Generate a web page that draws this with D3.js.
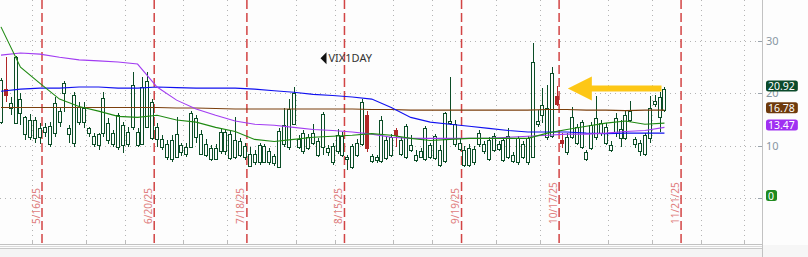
<!DOCTYPE html>
<html>
<head>
<meta charset="utf-8">
<script src="https://cdn.jsdelivr.net/npm/d3@7"></script>
<style>
html, body { margin: 0; padding: 0; background: #fdfdfd; overflow: hidden; }
svg { display: block; font-family: "Noto Sans", sans-serif; }
</style>
</head>
<body>
<svg id="chart" width="808" height="257"></svg>
<script>
// trading calendar
const firstDay = "2025-05-06";
const lastAxisDay = "2025-12-31";
const holidays = ["2025-05-26", "2025-06-19", "2025-07-04", "2025-09-01", "2025-11-27", "2025-12-25"];

// VIX1DAY daily candles, one per trading day from firstDay
const opens = [14.5, 20.8, 17.2, 14.3, 16.2, 12.2, 11.6, 11.4, 11.6, 12.6, 10.4, 12.4, 14.5, 20.0, 12.2, 10.6, 14.5, 14.5, 12.4, 10.4,
    10.1, 12.4, 11.0, 10.4, 9.7, 10.1, 10.4, 13.5, 10.1, 10.4, 13.5, 11.4, 11.2, 9.7, 7.8, 7.4, 7.8, 8.7, 8.5, 9.7,
    11.6, 8.5, 8.3, 7.4, 7.4, 8.9, 8.9, 7.6, 7.8, 8.3, 7.8, 6.2, 6.8, 6.8, 6.8, 6.8, 6.6, 6.0, 10.4, 9.7,
    14.1, 9.7, 8.9, 9.5, 10.6, 8.3, 9.7, 8.7, 6.8, 8.9, 8.2, 7.4, 6.0, 8.2, 10.3, 15.9, 7.0, 7.2, 7.0, 7.6,
    8.2, 12.9, 8.5, 7.8, 9.1, 7.2, 7.9, 7.4, 7.8, 7.6, 6.4, 7.0, 14.3, 10.3, 9.3, 6.4, 6.4, 6.8, 10.3, 8.9,
    7.4, 9.1, 9.3, 7.2, 7.8, 7.0, 6.8, 7.8, 6.8, 7.9, 14.1, 15.8, 11.6, 11.8, 19.5, 11.0, 8.7, 11.6, 10.6, 9.7,
    7.4, 9.5, 11.6, 12.4, 10.6, 9.1, 12.4, 11.4, 11.4, 14.9, 10.3, 8.9, 8.5, 11.4, 17.9, 15.4, 16.8];
const highs = [22.9, 26.9, 19.3, 27.1, 20.0, 15.6, 16.0, 15.4, 14.3, 14.3, 14.5, 19.3, 17.2, 22.3, 13.9, 20.2, 18.3, 18.3, 13.5, 12.4,
    12.4, 20.2, 15.2, 12.9, 16.2, 14.5, 13.5, 24.1, 13.3, 23.1, 24.1, 18.9, 14.3, 12.0, 11.0, 12.0, 15.4, 10.6, 10.6, 16.6,
    15.8, 12.9, 11.2, 10.1, 10.4, 13.3, 13.1, 12.9, 15.4, 11.4, 10.6, 9.7, 9.1, 10.6, 10.4, 9.5, 8.5, 13.3, 17.2, 18.9,
    21.2, 12.0, 12.9, 12.2, 14.1, 11.4, 16.4, 10.1, 10.6, 13.1, 12.6, 8.3, 10.4, 11.2, 18.9, 16.6, 8.5, 8.3, 15.6, 11.6,
    12.2, 13.3, 11.6, 14.1, 12.0, 9.1, 9.5, 13.7, 10.6, 12.2, 10.1, 16.4, 23.1, 14.9, 11.2, 9.9, 10.4, 9.9, 12.9, 10.8,
    11.6, 12.4, 10.8, 11.4, 13.3, 8.7, 11.8, 10.8, 11.8, 29.6, 16.8, 21.0, 21.6, 25.0, 21.4, 12.4, 12.4, 17.3, 14.1, 14.9,
    9.1, 14.5, 19.5, 14.9, 14.3, 10.8, 16.2, 14.9, 16.8, 18.5, 11.6, 11.0, 12.4, 19.5, 19.6, 20.2, 21.2];
const lows = [14.1, 18.3, 15.8, 14.1, 13.9, 11.0, 11.0, 10.6, 10.4, 11.6, 9.7, 11.6, 13.5, 16.4, 10.6, 9.7, 13.9, 13.3, 11.6, 9.7,
    9.1, 11.6, 10.4, 9.7, 9.1, 8.6, 9.7, 13.0, 9.7, 10.3, 13.3, 11.0, 9.7, 9.1, 7.2, 6.8, 7.6, 8.1, 7.8, 9.5,
    10.6, 8.2, 7.8, 7.0, 7.2, 8.5, 8.3, 7.2, 7.4, 7.8, 7.2, 6.0, 6.4, 6.4, 6.6, 6.4, 6.2, 5.8, 9.7, 9.1,
    13.9, 9.3, 8.5, 9.1, 10.1, 7.8, 8.3, 8.1, 6.4, 8.5, 7.8, 5.3, 5.6, 7.8, 9.9, 8.7, 6.6, 6.6, 6.6, 7.2,
    7.8, 9.7, 8.1, 7.4, 8.7, 6.8, 7.6, 7.0, 7.4, 7.2, 6.0, 6.6, 13.9, 9.7, 8.9, 6.0, 6.0, 6.4, 9.7, 8.5,
    7.0, 8.7, 8.9, 6.8, 7.4, 6.6, 6.4, 7.4, 6.4, 7.8, 13.5, 14.3, 11.0, 11.4, 17.5, 9.5, 8.3, 11.2, 10.1, 9.3,
    7.0, 9.1, 11.0, 11.8, 10.1, 8.7, 11.6, 9.7, 11.0, 14.5, 9.5, 8.1, 8.0, 10.6, 17.3, 12.6, 16.4];
const closes = [22.5, 19.6, 18.1, 26.9, 18.9, 15.4, 15.0, 15.0, 13.3, 13.5, 13.7, 18.1, 16.6, 21.9, 13.3, 19.6, 17.3, 17.2, 13.3, 11.9,
    12.2, 19.1, 14.3, 12.4, 15.8, 13.9, 12.7, 21.6, 12.6, 21.2, 22.3, 18.3, 13.5, 11.2, 10.4, 11.0, 12.2, 10.1, 9.7, 16.2,
    15.2, 12.2, 10.4, 9.5, 9.5, 12.6, 12.6, 12.2, 11.0, 10.8, 9.9, 8.5, 8.5, 10.1, 9.9, 8.9, 8.0, 12.8, 13.9, 17.0,
    20.0, 11.2, 12.4, 11.6, 12.4, 10.8, 16.0, 9.5, 9.9, 12.0, 11.8, 7.8, 9.9, 10.6, 18.3, 9.5, 8.0, 7.8, 15.0, 11.0,
    11.6, 12.0, 11.0, 13.7, 10.1, 8.3, 8.9, 13.3, 10.1, 11.8, 9.1, 16.2, 14.7, 14.1, 10.6, 9.1, 9.5, 9.3, 12.4, 10.3,
    11.0, 11.8, 10.3, 11.0, 11.8, 8.2, 11.4, 10.4, 11.4, 26.0, 14.7, 17.7, 17.2, 23.9, 17.9, 10.6, 11.6, 15.4, 13.5, 14.5,
    8.7, 13.9, 15.2, 14.3, 13.5, 10.1, 15.2, 13.1, 15.9, 16.6, 11.2, 10.6, 12.0, 17.2, 18.5, 19.3, 20.92];

// moving averages read every maStep bars
const maStep = 4;
const maGreen = [32.7, 25.0, 21.9, 18.9, 17.5, 16.6, 15.6, 15.4, 15.8, 14.9, 14.5, 13.5, 12.7, 11.2, 10.8, 11.2, 11.6, 11.8,
    12.0, 12.3, 12.0, 11.4, 11.0, 11.2, 11.4, 11.4, 11.4, 11.4, 12.4, 13.1, 13.7, 14.3, 14.7, 14.1, 14.3];
const maPurple = [27.3, 27.7, 27.5, 26.9, 26.4, 26.2, 26.0, 25.6, 21.2, 18.7, 17.0, 15.8, 14.7, 14.1, 13.9, 13.5, 13.1, 12.9,
    12.6, 12.2, 11.6, 11.4, 11.4, 11.4, 11.4, 11.4, 11.6, 11.8, 12.0, 12.2, 12.2, 12.4, 12.7, 12.9, 13.5];
const maBlue = [20.4, 20.8, 21.0, 21.0, 21.2, 21.2, 21.0, 21.0, 21.2, 21.1, 21.0, 21.0, 21.0, 20.8, 20.5, 20.2, 19.8, 19.6,
    19.3, 18.9, 17.3, 15.4, 14.5, 14.1, 13.7, 13.3, 12.9, 12.6, 12.6, 12.6, 12.4, 12.3, 12.4, 12.4, 12.4];
const maBrown = [17.3, 17.3, 17.3, 17.3, 17.3, 17.3, 17.3, 17.3, 17.3, 17.2, 17.2, 17.1, 17.0, 17.0, 17.0, 17.0, 17.0, 17.0,
    17.0, 16.9, 16.9, 16.8, 16.8, 16.8, 16.8, 16.8, 16.8, 16.8, 16.9, 16.9, 16.8, 16.8, 16.7, 16.8, 16.8];

// monthly expirations and time grid
const expiryDates = ["2025-05-16", "2025-06-20", "2025-07-18", "2025-08-15", "2025-09-19", "2025-10-17", "2025-11-21"];
const expiryLabels = ["5/16/25", "6/20/25", "7/18/25", "8/15/25", "9/19/25", "10/17/25", "11/21/25"];
const gridDates = ["2025-05-14", "2025-05-30", "2025-06-11", "2025-06-30", "2025-07-14", "2025-08-01", "2025-08-13",
    "2025-08-29", "2025-09-11", "2025-09-30", "2025-10-13", "2025-10-31", "2025-11-13", "2025-11-28", "2025-12-11"];

const yTicks = [0, 10, 20, 30];
const yTickLabels = ["", "10", "20", "30"];
const badgeValues = [20.92, 16.78, 13.47, 0];
const badgeLabels = ["20.92", "16.78", "13.47", "0"];
const symbolLabel = "VIX1DAY";
const symbolAt = { bar: 65.5, value: 26.7 };
const arrowAt = { fromBar: 135.4, toBar: 116.2, value: 20.9 };

const holidaySet = new Set(holidays);
const days = [];
for (let d = new Date(firstDay + "T12:00:00Z"); d <= new Date(lastAxisDay + "T12:00:00Z"); d.setUTCDate(d.getUTCDate() + 1)) {
    const wd = d.getUTCDay(), s = d.toISOString().slice(0, 10);
    if (wd > 0 && wd < 6 && !holidaySet.has(s)) days.push(s);
}
const dayIndex = new Map(days.map((s, i) => [s, i]));

const width = 808, height = 257,
    plotRight = 762, plotBottom = 244;

const svg = d3.select("#chart");
const x = d3.scaleLinear().domain([-0.2, 156]).range([0, plotRight]);
const y = d3.scaleLinear().domain([0, 30]).range([198, 41]);

svg.append("rect").attr("width", width).attr("height", height).attr("fill", "#fdfdfd");

// horizontal grid
svg.append("g").selectAll("line").data(yTicks).enter().append("line")
    .attr("x1", 0).attr("x2", plotRight)
    .attr("y1", d => Math.round(y(d)) + 0.5).attr("y2", d => Math.round(y(d)) + 0.5)
    .attr("stroke", "#b4b4b4").attr("stroke-dasharray", "1,4");

// vertical grid + bottom ticks
const gridX = gridDates.map(s => Math.round(x(dayIndex.get(s)) + 2) + 0.5);
svg.append("g").selectAll("line").data(gridX).enter().append("line")
    .attr("x1", d => d).attr("x2", d => d).attr("y1", 0).attr("y2", 238)
    .attr("stroke", "#b4b4b4").attr("stroke-dasharray", "1,4");
svg.append("g").selectAll("line").data(gridX).enter().append("line")
    .attr("x1", d => d).attr("x2", d => d).attr("y1", 240).attr("y2", plotBottom)
    .attr("stroke", "#bcbcbc");

// expiration lines and labels
const expX = expiryDates.map(s => x(dayIndex.get(s)) + 2);
svg.append("g").selectAll("line").data(expX).enter().append("line")
    .attr("x1", d => d).attr("x2", d => d).attr("y1", 0).attr("y2", plotBottom)
    .attr("stroke", "#d24444").attr("stroke-width", 1.5).attr("stroke-dasharray", "9,4");
svg.append("g").selectAll("text").data(expiryLabels).enter().append("text")
    .attr("transform", (d, i) => `translate(${expX[i] - 2.5},224) rotate(-90)`)
    .attr("font-size", 10).attr("fill", "#e07c7c")
    .text(d => d);

// candles
const bars = opens.map((o, i) => ({ i, o, h: highs[i], l: lows[i], c: closes[i] }));
const candleG = svg.append("g").attr("shape-rendering", "crispEdges");
const cg = candleG.selectAll("g").data(bars).enter().append("g");
cg.append("line")
    .attr("x1", d => Math.round(x(d.i)) + 0.5).attr("x2", d => Math.round(x(d.i)) + 0.5)
    .attr("y1", d => y(d.h)).attr("y2", d => y(d.l))
    .attr("stroke", d => d.c < d.o ? "#b02828" : "#0b4d27");
cg.append("rect")
    .attr("x", d => Math.round(x(d.i)) - 1.5).attr("width", 3)
    .attr("y", d => Math.round(y(Math.max(d.o, d.c))) + 0.5)
    .attr("height", d => Math.max(1, Math.round(y(Math.min(d.o, d.c))) - Math.round(y(Math.max(d.o, d.c)))))
    .attr("fill", d => d.c < d.o ? "#b02828" : "#fdfdfd")
    .attr("stroke", d => d.c < d.o ? "#b02828" : "#0b4d27");

// moving averages
const maLine = d3.line().x((d, k) => x(k * maStep)).y(d => y(d));
[[maBrown, "#7b3f0c"], [maBlue, "#1010f0"], [maPurple, "#a23cf2"], [maGreen, "#1f8a12"]].forEach(([vals, col]) => {
    svg.append("path").datum(vals).attr("d", maLine)
        .attr("fill", "none").attr("stroke", col).attr("stroke-width", 1.1);
});

// symbol label
const sx = x(symbolAt.bar), sy = y(symbolAt.value);
svg.append("path").attr("d", `M${sx},${sy}L${sx + 6},${sy - 6}L${sx + 6},${sy + 6}Z`).attr("fill", "#111");
svg.append("text").attr("x", sx + 8).attr("y", sy + 4).attr("font-size", 11).attr("fill", "#333")
    .text(symbolLabel);

// yellow arrow
const ax0 = x(arrowAt.toBar), ax1 = x(arrowAt.fromBar), ay = y(arrowAt.value);
svg.append("path")
    .attr("d", `M${ax0},${ay}L${ax0 + 24},${ay - 12}L${ax0 + 24},${ay - 3}L${ax1},${ay - 3}L${ax1},${ay + 3}L${ax0 + 24},${ay + 3}L${ax0 + 24},${ay + 12}Z`)
    .attr("fill", "#fdc716");

// frame: bottom strip and right axis
svg.append("rect").attr("x", 0).attr("y", 248).attr("width", width).attr("height", 9).attr("fill", "#f4f4f4");
svg.append("rect").attr("x", plotRight).attr("y", 245).attr("width", width - plotRight).attr("height", 12).attr("fill", "#f6f6f6");
svg.append("line").attr("x1", 0).attr("x2", plotRight).attr("y1", 244.5).attr("y2", 244.5).attr("stroke", "#c2c2c2");
svg.append("line").attr("x1", 0).attr("x2", plotRight).attr("y1", 246.5).attr("y2", 246.5).attr("stroke", "#dadada");
svg.append("line").attr("x1", 0).attr("x2", plotRight).attr("y1", 248.5).attr("y2", 248.5).attr("stroke", "#c8c8c8");
svg.append("line").attr("x1", plotRight + 0.5).attr("x2", plotRight + 0.5).attr("y1", 0).attr("y2", height).attr("stroke", "#c2c2c2");

const axisG = svg.append("g");
yTicks.forEach((t, k) => {
    axisG.append("line").attr("x1", plotRight - 4).attr("x2", plotRight)
        .attr("y1", Math.round(y(t)) + 0.5).attr("y2", Math.round(y(t)) + 0.5).attr("stroke", "#9aa4ad");
    axisG.append("text").attr("x", plotRight + 4).attr("y", y(t) + 4)
        .attr("font-size", 11).attr("fill", "#8896a2").text(yTickLabels[k]);
});

// last value badges
const badgeColors = ["#0b4a2b", "#6e3a0c", "#a030f2", "#1f8a1f"];
badgeValues.forEach((v, k) => {
    const cy = y(v) - 2.5;
    const g = svg.append("g");
    const r = g.append("rect").attr("x", plotRight + 4).attr("y", cy - 5.5).attr("height", 11).attr("rx", 2.5)
        .attr("fill", badgeColors[k]);
    const t = g.append("text").attr("x", plotRight + 6).attr("y", cy + 4)
        .attr("font-size", 10.5).attr("fill", "#fff").text(badgeLabels[k]);
    r.attr("width", t.node().getComputedTextLength() + 5);
});
</script>
</body>
</html>
